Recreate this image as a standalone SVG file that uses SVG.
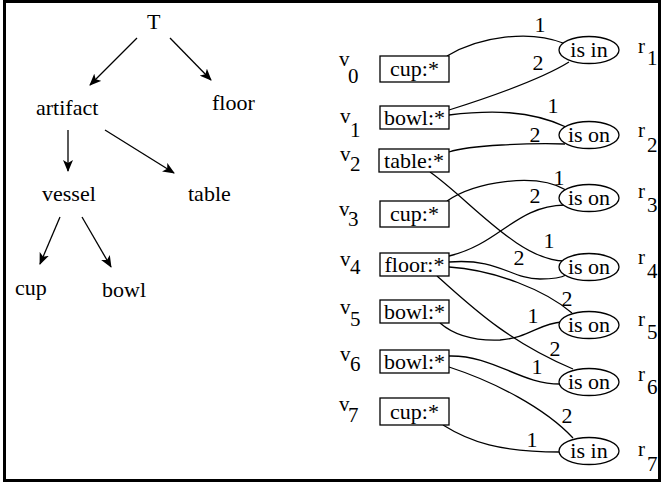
<svg xmlns="http://www.w3.org/2000/svg" width="661" height="482" viewBox="0 0 661 482" font-family="'Liberation Serif', 'Times New Roman', serif">
<defs>
<marker id="arr" viewBox="0 0 12 10" refX="11" refY="5" markerWidth="12" markerHeight="10" markerUnits="userSpaceOnUse" orient="auto">
<path d="M0,0 L12,5 L0,10 L3,5 z" fill="#000"/>
</marker>
<style>
text{font-family:"Liberation Serif","Times New Roman",serif;fill:#000}
.t{font-size:22px}
.b{font-size:22px;text-anchor:middle}
.e{font-size:22px;text-anchor:middle}
.l{font-size:22px;text-anchor:middle}
.s{font-size:21px}
.tree{stroke:#000;stroke-width:1.3;fill:none;marker-end:url(#arr)}
.c{stroke:#000;stroke-width:1.3;fill:none}
rect.box{fill:#fff;stroke:#000;stroke-width:1.3}
ellipse{fill:#fff;stroke:#000;stroke-width:1.3}
</style>
</defs>
<rect x="4.5" y="1.5" width="655" height="479" fill="#fff" stroke="#000" stroke-width="3"/>

<g id="tree-edges">
<line class="tree" x1="137" y1="38" x2="90" y2="85"/>
<line class="tree" x1="170" y1="38" x2="211" y2="80"/>
<line class="tree" x1="68" y1="130" x2="68" y2="171"/>
<line class="tree" x1="105" y1="130" x2="174" y2="173"/>
<line class="tree" x1="60" y1="217" x2="40" y2="264"/>
<line class="tree" x1="82" y1="217" x2="111" y2="267"/>
</g>
<g id="T"><text class="t" x="147" y="29">T</text></g>
<g id="artifact"><text class="t" x="36" y="115">artifact</text></g>
<g id="floor"><text class="t" x="212" y="110">floor</text></g>
<g id="vessel"><text class="t" x="42" y="201">vessel</text></g>
<g id="table"><text class="t" x="188" y="201">table</text></g>
<g id="cup"><text class="t" x="15" y="295">cup</text></g>
<g id="bowl"><text class="t" x="102" y="297">bowl</text></g>

<g id="connectors">
<path class="c" d="M447,56 C480,36 530,30 563,43"/>
<path class="c" d="M449,110 C490,97 540,80 569,62"/>
<path class="c" d="M449,115 C490,110 530,110 566,127"/>
<path class="c" d="M449,152 C470,145 530,143 565,144"/>
<path class="c" d="M447,201 C475,182 535,172 566,190"/>
<path class="c" d="M449,256 C500,244 515,206 565,205"/>
<path class="c" d="M430,172 C470,200 520,262 566,261"/>
<path class="c" d="M449,262 C500,258 510,279 540,279 C553,279 561,278 566,275"/>
<path class="c" d="M449,267 C495,270 545,290 572,313"/>
<path class="c" d="M440,323 C455,336 475,341 500,340 C528,338 540,323 562,322"/>
<path class="c" d="M437,276 C470,305 505,340 573,369"/>
<path class="c" d="M449,356 C495,355 520,385 562,384"/>
<path class="c" d="M449,367 C495,382 545,408 573,438"/>
<path class="c" d="M443,425 C470,442 500,452 560,452"/>
</g>
<g id="edge-labels">
<text class="l" x="540" y="32">1</text>
<text class="l" x="538" y="70">2</text>
<text class="l" x="553" y="113">1</text>
<text class="l" x="535" y="142">2</text>
<text class="l" x="559" y="185">1</text>
<text class="l" x="535" y="203">2</text>
<text class="l" x="549" y="248">1</text>
<text class="l" x="519" y="265">2</text>
<text class="l" x="567" y="306">2</text>
<text class="l" x="533" y="323">1</text>
<text class="l" x="555" y="356">2</text>
<text class="l" x="537" y="374">1</text>
<text class="l" x="567" y="423">2</text>
<text class="l" x="532" y="447">1</text>
</g>

<g id="v0"><text class="s" x="339" y="66">v</text><text class="s" x="348" y="83">0</text><rect class="box" x="380" y="56" width="69" height="26"/><text class="b" x="414.5" y="76">cup:*</text></g>
<g id="v1"><text class="s" x="340" y="123">v</text><text class="s" x="350" y="137">1</text><rect class="box" x="380" y="106" width="69" height="23"/><text class="b" x="414.5" y="125">bowl:*</text></g>
<g id="v2"><text class="s" x="340" y="161">v</text><text class="s" x="350" y="171">2</text><rect class="box" x="379" y="149" width="70" height="23"/><text class="b" x="414" y="168">table:*</text></g>
<g id="v3"><text class="s" x="339" y="216">v</text><text class="s" x="348" y="226">3</text><rect class="box" x="380" y="201" width="69" height="26"/><text class="b" x="414.5" y="221">cup:*</text></g>
<g id="v4"><text class="s" x="340" y="266">v</text><text class="s" x="350" y="274">4</text><rect class="box" x="380" y="253" width="69" height="23"/><text class="b" x="414.5" y="272">floor:*</text></g>
<g id="v5"><text class="s" x="340" y="314">v</text><text class="s" x="350" y="326">5</text><rect class="box" x="380" y="300" width="69" height="23"/><text class="b" x="414.5" y="319">bowl:*</text></g>
<g id="v6"><text class="s" x="340" y="361">v</text><text class="s" x="350" y="371">6</text><rect class="box" x="380" y="350" width="69" height="23"/><text class="b" x="414.5" y="369">bowl:*</text></g>
<g id="v7"><text class="s" x="339" y="411">v</text><text class="s" x="348" y="422">7</text><rect class="box" x="380" y="398" width="69" height="27"/><text class="b" x="414.5" y="419">cup:*</text></g>

<g id="r1"><ellipse cx="589" cy="50" rx="30" ry="13.5"/><text class="e" x="589" y="57">is in</text><text class="s" x="638" y="53">r</text><text class="s" x="647" y="65">1</text></g>
<g id="r2"><ellipse cx="589" cy="135" rx="30" ry="13.5"/><text class="e" x="589" y="142">is on</text><text class="s" x="638" y="137">r</text><text class="s" x="647" y="152">2</text></g>
<g id="r3"><ellipse cx="589" cy="198" rx="30" ry="13.5"/><text class="e" x="589" y="205">is on</text><text class="s" x="638" y="198">r</text><text class="s" x="647" y="212">3</text></g>
<g id="r4"><ellipse cx="589" cy="267" rx="30" ry="13.5"/><text class="e" x="589" y="274">is on</text><text class="s" x="638" y="264">r</text><text class="s" x="647" y="278">4</text></g>
<g id="r5"><ellipse cx="589" cy="325" rx="30" ry="13.5"/><text class="e" x="589" y="332">is on</text><text class="s" x="638" y="326">r</text><text class="s" x="647" y="339">5</text></g>
<g id="r6"><ellipse cx="589" cy="382" rx="30" ry="13.5"/><text class="e" x="589" y="389">is on</text><text class="s" x="638" y="381">r</text><text class="s" x="647" y="394">6</text></g>
<g id="r7"><ellipse cx="589" cy="451" rx="30" ry="13.5"/><text class="e" x="589" y="458">is in</text><text class="s" x="638" y="456">r</text><text class="s" x="647" y="471">7</text></g>
</svg>
